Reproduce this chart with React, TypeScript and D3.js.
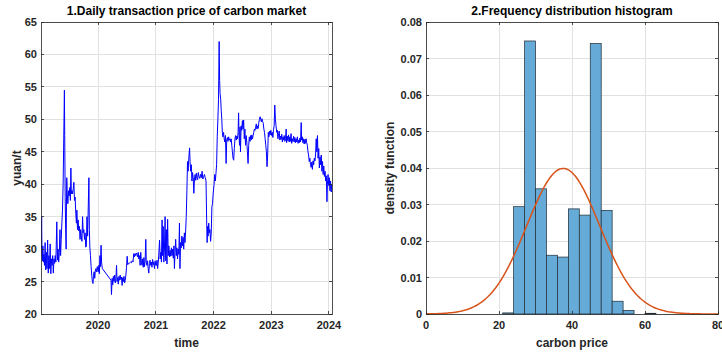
import React, { useEffect } from 'react';
import * as d3 from 'd3';

// daily carbon price (yuan/t)
const price2019: [string, number][] = [
	['2019-01-05', 28.8], ['2019-01-07', 31.0], ['2019-01-09', 35.0], ['2019-01-11', 29.5], ['2019-01-14', 28.2],
	['2019-01-17', 30.5], ['2019-01-20', 28.0], ['2019-01-23', 29.2], ['2019-01-27', 27.5], ['2019-01-31', 31.0],
	['2019-02-04', 26.8], ['2019-02-08', 29.5], ['2019-02-12', 27.0], ['2019-02-16', 31.4], ['2019-02-20', 26.3],
	['2019-02-24', 29.0], ['2019-02-28', 27.0], ['2019-03-04', 30.8], ['2019-03-08', 26.2], ['2019-03-12', 28.5],
	['2019-03-16', 27.5], ['2019-03-20', 29.0], ['2019-03-24', 26.3], ['2019-03-28', 28.5], ['2019-04-01', 27.8],
	['2019-04-05', 29.0], ['2019-04-09', 28.0], ['2019-04-15', 34.2], ['2019-04-19', 28.3], ['2019-04-23', 30.0],
	['2019-04-27', 28.0], ['2019-05-01', 29.5], ['2019-05-05', 33.0], ['2019-05-09', 29.0], ['2019-05-13', 31.5],
	['2019-05-17', 34.0], ['2019-05-21', 36.0], ['2019-05-25', 40.0], ['2019-05-29', 47.0], ['2019-06-02', 54.5],
	['2019-06-04', 47.5], ['2019-06-07', 38.0], ['2019-06-10', 33.0], ['2019-06-13', 30.0], ['2019-06-15', 36.5],
	['2019-06-17', 41.0], ['2019-06-20', 38.5], ['2019-06-24', 37.0], ['2019-06-28', 39.0], ['2019-07-02', 38.2],
	['2019-07-06', 39.5], ['2019-07-10', 37.5], ['2019-07-13', 42.5], ['2019-07-16', 38.5], ['2019-07-20', 39.0],
	['2019-07-24', 38.5], ['2019-07-28', 39.3], ['2019-08-01', 40.3], ['2019-08-05', 37.5], ['2019-08-09', 38.0],
	['2019-08-13', 35.5], ['2019-08-17', 34.0], ['2019-08-20', 36.0], ['2019-08-24', 33.0], ['2019-08-28', 34.5],
	['2019-09-01', 32.8], ['2019-09-05', 33.5], ['2019-09-09', 31.5], ['2019-09-13', 33.0], ['2019-09-17', 32.0],
	['2019-09-21', 31.2], ['2019-09-25', 35.0], ['2019-09-29', 32.5], ['2019-10-03', 33.0], ['2019-10-07', 31.5],
	['2019-10-11', 32.5], ['2019-10-15', 30.3], ['2019-10-19', 30.5], ['2019-10-23', 35.0], ['2019-10-27', 32.0],
	['2019-10-31', 36.5], ['2019-11-04', 41.0], ['2019-11-07', 33.0], ['2019-11-10', 30.3], ['2019-11-14', 29.0],
	['2019-11-18', 27.3], ['2019-11-22', 26.0], ['2019-11-26', 25.0], ['2019-11-30', 24.7], ['2019-12-03', 25.8],
	['2019-12-07', 26.5], ['2019-12-11', 25.5], ['2019-12-15', 26.8], ['2019-12-19', 27.0], ['2019-12-23', 26.5],
	['2019-12-27', 27.3]
];

const price2020: [string, number][] = [
	['2020-01-02', 26.5], ['2020-01-06', 27.5], ['2020-01-09', 26.2], ['2020-01-13', 29.0], ['2020-01-16', 27.3],
	['2020-01-20', 30.6], ['2020-01-23', 28.0], ['2020-01-28', 27.0], ['2020-03-23', 25.2], ['2020-03-26', 23.0],
	['2020-03-30', 25.5], ['2020-04-03', 24.5], ['2020-04-07', 25.8], ['2020-04-11', 25.0], ['2020-04-15', 26.0],
	['2020-04-19', 24.8], ['2020-04-23', 25.5], ['2020-04-27', 27.5], ['2020-04-30', 25.0], ['2020-05-04', 25.6],
	['2020-05-08', 24.6], ['2020-05-12', 25.8], ['2020-05-16', 25.2], ['2020-05-20', 26.0], ['2020-05-24', 25.3],
	['2020-05-28', 25.7], ['2020-06-01', 24.4], ['2020-06-05', 25.6], ['2020-06-09', 25.0], ['2020-06-13', 25.8],
	['2020-06-17', 24.8], ['2020-06-21', 25.2], ['2020-06-25', 26.0], ['2020-06-29', 27.2], ['2020-07-03', 28.9],
	['2020-07-07', 27.6], ['2020-07-11', 27.8], ['2020-07-15', 27.8], ['2020-07-20', 27.9], ['2020-07-25', 28.0],
	['2020-07-30', 27.9], ['2020-08-04', 28.2], ['2020-08-09', 28.0], ['2020-08-14', 29.3], ['2020-08-18', 28.8],
	['2020-08-22', 29.3], ['2020-08-26', 29.0], ['2020-08-30', 29.4], ['2020-09-03', 29.2], ['2020-09-07', 28.8],
	['2020-09-11', 29.5], ['2020-09-15', 28.5], ['2020-09-19', 29.0], ['2020-09-23', 27.5], ['2020-09-27', 29.5],
	['2020-10-01', 28.0], ['2020-10-05', 27.5], ['2020-10-09', 28.5], ['2020-10-13', 27.2], ['2020-10-17', 28.7],
	['2020-10-21', 27.3], ['2020-10-25', 28.3], ['2020-10-29', 31.5], ['2020-11-01', 28.0], ['2020-11-05', 27.5],
	['2020-11-09', 28.2], ['2020-11-13', 27.0], ['2020-11-17', 26.3], ['2020-11-21', 27.8], ['2020-11-25', 28.3],
	['2020-11-29', 27.5], ['2020-12-03', 28.0], ['2020-12-07', 27.2], ['2020-12-11', 28.4], ['2020-12-15', 27.6],
	['2020-12-19', 28.0], ['2020-12-23', 27.0], ['2020-12-27', 28.2], ['2020-12-31', 27.5]
];

const price2021: [string, number][] = [
	['2021-01-04', 27.5], ['2021-01-08', 28.3], ['2021-01-12', 27.0], ['2021-01-16', 28.0], ['2021-01-20', 29.5],
	['2021-01-24', 31.4], ['2021-01-28', 28.5], ['2021-02-01', 29.5], ['2021-02-05', 28.0], ['2021-02-09', 34.5],
	['2021-02-12', 29.0], ['2021-02-16', 33.5], ['2021-02-20', 28.0], ['2021-02-24', 30.0], ['2021-02-28', 35.0],
	['2021-03-04', 28.2], ['2021-03-08', 33.0], ['2021-03-12', 27.7], ['2021-03-16', 34.6], ['2021-03-20', 29.0],
	['2021-03-24', 30.5], ['2021-03-28', 28.8], ['2021-04-01', 29.8], ['2021-04-05', 28.9], ['2021-04-09', 30.2],
	['2021-04-13', 29.0], ['2021-04-17', 30.0], ['2021-04-21', 28.6], ['2021-04-25', 30.5], ['2021-04-28', 27.0],
	['2021-05-02', 29.5], ['2021-05-06', 31.5], ['2021-05-10', 29.0], ['2021-05-14', 30.2], ['2021-05-18', 28.5],
	['2021-05-22', 30.0], ['2021-05-26', 29.2], ['2021-05-30', 34.0], ['2021-06-02', 27.0], ['2021-06-06', 31.0],
	['2021-06-10', 30.2], ['2021-06-14', 32.0], ['2021-06-18', 30.5], ['2021-06-22', 31.8], ['2021-06-26', 30.0],
	['2021-06-30', 32.5], ['2021-07-04', 31.0], ['2021-07-08', 32.8], ['2021-07-12', 35.0], ['2021-07-16', 39.0],
	['2021-07-20', 43.5], ['2021-07-24', 42.0], ['2021-07-28', 44.0], ['2021-08-02', 45.6], ['2021-08-05', 43.5],
	['2021-08-09', 42.0], ['2021-08-13', 43.0], ['2021-08-17', 40.5], ['2021-08-21', 41.8], ['2021-08-25', 41.0],
	['2021-08-29', 38.6], ['2021-09-02', 40.8], ['2021-09-06', 41.5], ['2021-09-10', 40.6], ['2021-09-14', 41.7],
	['2021-09-18', 41.0], ['2021-09-22', 40.7], ['2021-09-26', 41.8], ['2021-09-30', 41.2], ['2021-10-05', 40.9],
	['2021-10-10', 41.5], ['2021-10-15', 41.0], ['2021-10-20', 42.0], ['2021-10-25', 40.8], ['2021-10-30', 41.2],
	['2021-11-04', 41.5], ['2021-11-09', 41.0], ['2021-11-14', 40.5], ['2021-11-18', 34.5], ['2021-11-21', 31.0],
	['2021-11-24', 33.5], ['2021-11-27', 32.0], ['2021-12-01', 34.0], ['2021-12-05', 32.5], ['2021-12-09', 33.0],
	['2021-12-13', 31.2], ['2021-12-17', 32.5], ['2021-12-21', 36.5], ['2021-12-25', 37.0], ['2021-12-29', 38.5]
];

const price2022: [string, number][] = [
	['2022-01-04', 40.0], ['2022-01-08', 41.5], ['2022-01-12', 40.5], ['2022-01-16', 41.7], ['2022-01-20', 43.0],
	['2022-01-24', 47.3], ['2022-01-28', 50.0], ['2022-02-01', 53.0], ['2022-02-05', 62.0], ['2022-02-08', 56.0],
	['2022-02-11', 54.0], ['2022-02-15', 53.0], ['2022-02-18', 51.4], ['2022-02-22', 50.0], ['2022-02-25', 48.0],
	['2022-03-01', 47.3], ['2022-03-05', 48.0], ['2022-03-09', 47.0], ['2022-03-13', 46.5], ['2022-03-17', 47.5],
	['2022-03-21', 43.2], ['2022-03-25', 46.8], ['2022-03-29', 47.2], ['2022-04-02', 46.6], ['2022-04-06', 47.3],
	['2022-04-10', 46.8], ['2022-04-14', 47.0], ['2022-04-18', 46.5], ['2022-04-22', 47.0], ['2022-04-26', 46.0],
	['2022-04-30', 45.0], ['2022-05-04', 44.0], ['2022-05-08', 43.7], ['2022-05-12', 45.5], ['2022-05-16', 47.0],
	['2022-05-20', 47.5], ['2022-05-24', 46.8], ['2022-05-28', 47.4], ['2022-06-01', 47.0], ['2022-06-05', 48.0],
	['2022-06-08', 51.0], ['2022-06-11', 47.5], ['2022-06-14', 46.0], ['2022-06-17', 48.8], ['2022-06-20', 45.0],
	['2022-06-24', 49.0], ['2022-06-28', 48.3], ['2022-07-02', 49.8], ['2022-07-06', 48.5], ['2022-07-10', 49.9],
	['2022-07-14', 47.0], ['2022-07-18', 48.5], ['2022-07-22', 46.0], ['2022-07-26', 47.5], ['2022-07-30', 46.5],
	['2022-08-03', 45.0], ['2022-08-07', 43.2], ['2022-08-11', 46.0], ['2022-08-15', 47.3], ['2022-08-19', 46.6],
	['2022-08-23', 47.5], ['2022-08-27', 46.8], ['2022-08-31', 47.6], ['2022-09-04', 47.0], ['2022-09-08', 47.5],
	['2022-09-12', 48.0], ['2022-09-16', 48.5], ['2022-09-20', 48.3], ['2022-09-24', 48.8], ['2022-09-28', 49.3],
	['2022-10-02', 48.5], ['2022-10-06', 49.0], ['2022-10-10', 48.6], ['2022-10-14', 49.5], ['2022-10-18', 50.0],
	['2022-10-22', 50.4], ['2022-10-26', 50.0], ['2022-10-30', 49.6], ['2022-11-03', 50.1], ['2022-11-07', 49.7],
	['2022-11-11', 49.4], ['2022-11-15', 48.5], ['2022-11-19', 48.0], ['2022-11-23', 47.0], ['2022-11-27', 46.0],
	['2022-12-01', 45.0], ['2022-12-05', 42.7], ['2022-12-09', 44.5], ['2022-12-13', 48.0], ['2022-12-17', 47.3],
	['2022-12-21', 48.2], ['2022-12-25', 47.6], ['2022-12-29', 48.3]
];

const price2023: [string, number][] = [
	['2023-01-03', 47.5], ['2023-01-07', 48.0], ['2023-01-11', 47.2], ['2023-01-15', 48.4], ['2023-01-19', 49.0],
	['2023-01-23', 52.2], ['2023-01-27', 50.0], ['2023-01-31', 49.0], ['2023-02-04', 48.0], ['2023-02-08', 48.3],
	['2023-02-12', 47.0], ['2023-02-16', 47.8], ['2023-02-20', 48.2], ['2023-02-24', 46.8], ['2023-02-28', 47.4],
	['2023-03-04', 46.9], ['2023-03-08', 47.7], ['2023-03-12', 46.5], ['2023-03-16', 47.3], ['2023-03-20', 46.8],
	['2023-03-24', 47.5], ['2023-03-28', 46.6], ['2023-04-01', 47.0], ['2023-04-05', 48.5], ['2023-04-08', 46.4],
	['2023-04-12', 47.4], ['2023-04-16', 46.7], ['2023-04-20', 47.6], ['2023-04-24', 46.5], ['2023-04-28', 47.3],
	['2023-05-02', 46.6], ['2023-05-06', 47.8], ['2023-05-10', 46.3], ['2023-05-14', 47.0], ['2023-05-18', 46.6],
	['2023-05-22', 47.4], ['2023-05-26', 46.5], ['2023-05-30', 47.2], ['2023-06-03', 46.4], ['2023-06-07', 47.0],
	['2023-06-11', 46.5], ['2023-06-15', 47.3], ['2023-06-19', 46.3], ['2023-06-23', 46.8], ['2023-06-27', 46.4],
	['2023-07-01', 47.1], ['2023-07-05', 46.5], ['2023-07-09', 49.5], ['2023-07-12', 46.8], ['2023-07-16', 47.3],
	['2023-07-20', 46.4], ['2023-07-24', 47.0], ['2023-07-28', 46.2], ['2023-08-01', 46.9], ['2023-08-05', 46.3],
	['2023-08-09', 47.0], ['2023-08-13', 46.4], ['2023-08-17', 46.0], ['2023-08-21', 45.0], ['2023-08-25', 44.5],
	['2023-08-29', 43.5], ['2023-09-02', 44.0], ['2023-09-06', 43.0], ['2023-09-10', 42.6], ['2023-09-14', 43.4],
	['2023-09-18', 42.3], ['2023-09-22', 43.6], ['2023-09-26', 43.0], ['2023-09-30', 44.0], ['2023-10-04', 43.6],
	['2023-10-08', 44.5], ['2023-10-12', 47.0], ['2023-10-16', 45.0], ['2023-10-20', 47.5], ['2023-10-24', 44.0],
	['2023-10-28', 45.5], ['2023-11-01', 42.5], ['2023-11-05', 44.2], ['2023-11-09', 43.0], ['2023-11-13', 44.5],
	['2023-11-17', 42.0], ['2023-11-21', 43.5], ['2023-11-25', 41.5], ['2023-11-29', 42.8], ['2023-12-03', 41.2],
	['2023-12-07', 42.0], ['2023-12-11', 40.5], ['2023-12-15', 41.3], ['2023-12-19', 37.3], ['2023-12-22', 40.0],
	['2023-12-26', 41.5], ['2023-12-30', 39.8]
];

const price2024: [string, number][] = [
	['2024-01-03', 41.0], ['2024-01-07', 39.0], ['2024-01-11', 40.5], ['2024-01-15', 38.8], ['2024-01-18', 40.0]
];

const yearTicks = ['2020-01-01', '2021-01-01', '2022-01-01', '2023-01-01', '2024-01-01'];
const priceTicks = [20, 25, 30, 35, 40, 45, 50, 55, 60, 65];

// histogram (density per bin, bin width 3)
const binStarts = [21, 24, 27, 30, 33, 36, 39, 42, 45, 48, 51, 54, 57, 60];
const binDensity = [0.0003, 0.0294, 0.0748, 0.0343, 0.0161, 0.0156, 0.0288, 0.0271, 0.0741, 0.0284, 0.0035, 0.0010, 0, 0.0002];
const binWidth = 3;
const fitMean = 37.6;
const fitSigma = 10.0;
const histXTicks = [0, 20, 40, 60, 80];
const histYTicks = [0, 0.01, 0.02, 0.03, 0.04, 0.05, 0.06, 0.07, 0.08];

const FONT = '"Liberation Sans", Arial, Helvetica, sans-serif';
const TXT = '#262626';
const GRID = '#e1e1e1';

const parse = d3.timeParse('%Y-%m-%d');

function Frame({ x0, x1, y0, y1, xt, yt }: { x0: number; x1: number; y0: number; y1: number; xt: number[]; yt: number[] }) {
	const tl = 3;
	return (
		<g shapeRendering="crispEdges">
			{xt.map((x, i) => (
				<g key={'xt' + i}>
					<line x1={x} x2={x} y1={y1} y2={y1 - tl} stroke={TXT} strokeWidth={0.8} />
					<line x1={x} x2={x} y1={y0} y2={y0 + tl} stroke={TXT} strokeWidth={0.8} />
				</g>
			))}
			{yt.map((y, i) => (
				<g key={'yt' + i}>
					<line x1={x0} x2={x0 + tl} y1={y} y2={y} stroke={TXT} strokeWidth={0.8} />
					<line x1={x1} x2={x1 - tl} y1={y} y2={y} stroke={TXT} strokeWidth={0.8} />
				</g>
			))}
			<rect x={x0} y={y0} width={x1 - x0} height={y1 - y0} fill="none" stroke={TXT} strokeWidth={0.8} />
		</g>
	);
}

export default function App() {
	useEffect(() => {
		document.body.style.margin = '0';
		document.body.style.overflow = 'hidden';
	}, []);

	const series = [...price2019, ...price2020, ...price2021, ...price2022, ...price2023, ...price2024]
		.map(([d, v]) => ({ date: parse(d) as Date, value: v }));

	// left panel
	const L = { left: 41, right: 332, top: 22, bottom: 314 };
	const xTime = d3.scaleTime()
		.domain([parse('2019-01-05') as Date, parse('2024-01-20') as Date])
		.range([L.left, L.right]);
	const yPrice = d3.scaleLinear().domain([20, 65]).range([L.bottom, L.top]);
	const priceLine = d3.line<{ date: Date; value: number }>()
		.x(d => xTime(d.date))
		.y(d => yPrice(d.value));
	const yearDates = yearTicks.map(d => parse(d) as Date);

	// right panel
	const R = { left: 426, right: 718, top: 22, bottom: 314 };
	const xHist = d3.scaleLinear().domain([0, 80]).range([R.left, R.right]);
	const yHist = d3.scaleLinear().domain([0, 0.08]).range([R.bottom, R.top]);
	const fitPts = d3.range(0, 80.01, 0.5).map(x => [x, Math.exp(-0.5 * ((x - fitMean) / fitSigma) ** 2) / (fitSigma * Math.sqrt(2 * Math.PI))]);
	const fitLine = d3.line<number[]>().x(d => xHist(d[0])).y(d => yHist(d[1]));

	return (
		<svg width={722} height={354} style={{ display: 'block', background: '#fff' }} fontFamily={FONT}>
			<defs>
				<clipPath id="clipL"><rect x={L.left} y={L.top} width={L.right - L.left} height={L.bottom - L.top} /></clipPath>
			</defs>

			{/* ---------- left: price series ---------- */}
			<g shapeRendering="crispEdges">
				{yearDates.map((d, i) => (
					<line key={'gx' + i} x1={xTime(d)} x2={xTime(d)} y1={L.top} y2={L.bottom} stroke={GRID} />
				))}
				{priceTicks.map(t => (
					<line key={'gy' + t} x1={L.left} x2={L.right} y1={yPrice(t)} y2={yPrice(t)} stroke={GRID} />
				))}
			</g>
			<path d={priceLine(series) || ''} fill="none" stroke="#0000ff" strokeWidth={1} strokeLinejoin="round" clipPath="url(#clipL)" />
			<Frame x0={L.left} x1={L.right} y0={L.top} y1={L.bottom} xt={yearDates.map(d => xTime(d))} yt={priceTicks.map(t => yPrice(t))} />
			{yearDates.map((d, i) => (
				<text key={'lx' + i} x={xTime(d)} y={329} textAnchor="middle" fontSize={11} fontWeight="bold" fill={TXT}>
					{d3.timeFormat('%Y')(d)}
				</text>
			))}
			{priceTicks.map(t => (
				<text key={'ly' + t} x={L.left - 4} y={yPrice(t) + 4} textAnchor="end" fontSize={11} fontWeight="bold" fill={TXT}>{t}</text>
			))}
			<text x={(L.left + L.right) / 2} y={15} textAnchor="middle" fontSize={12} fontWeight="bold" fill="#000">
				1.Daily transaction price of carbon market
			</text>
			<text x={(L.left + L.right) / 2} y={347} textAnchor="middle" fontSize={12} fontWeight="bold" fill={TXT}>time</text>
			<text transform={`translate(21,${(L.top + L.bottom) / 2}) rotate(-90)`} textAnchor="middle" fontSize={12} fontWeight="bold" fill={TXT}>yuan/t</text>

			{/* ---------- right: histogram ---------- */}
			<g shapeRendering="crispEdges">
				{histXTicks.map(t => (
					<line key={'hx' + t} x1={xHist(t)} x2={xHist(t)} y1={R.top} y2={R.bottom} stroke={GRID} />
				))}
				{histYTicks.map(t => (
					<line key={'hy' + t} x1={R.left} x2={R.right} y1={yHist(t)} y2={yHist(t)} stroke={GRID} />
				))}
			</g>
			{binStarts.map((b, i) => (
				binDensity[i] > 0 ? (
					<rect key={'bin' + b} x={xHist(b)} y={yHist(binDensity[i])} width={xHist(b + binWidth) - xHist(b)}
						height={yHist(0) - yHist(binDensity[i])} fill="#66aad7" stroke="#1f2a33" strokeWidth={0.7} />
				) : null
			))}
			<path d={fitLine(fitPts) || ''} fill="none" stroke="#d95319" strokeWidth={1.5} />
			<Frame x0={R.left} x1={R.right} y0={R.top} y1={R.bottom} xt={histXTicks.map(t => xHist(t))} yt={histYTicks.map(t => yHist(t))} />
			{histXTicks.map(t => (
				<text key={'hlx' + t} x={xHist(t)} y={329} textAnchor="middle" fontSize={11} fontWeight="bold" fill={TXT}>{t}</text>
			))}
			{histYTicks.map(t => (
				<text key={'hly' + t} x={R.left - 4} y={yHist(t) + 4} textAnchor="end" fontSize={11} fontWeight="bold" fill={TXT}>
					{t === 0 ? '0' : d3.format('.2f')(t)}
				</text>
			))}
			<text x={(R.left + R.right) / 2} y={15} textAnchor="middle" fontSize={12} fontWeight="bold" fill="#000">
				2.Frequency distribution histogram
			</text>
			<text x={(R.left + R.right) / 2} y={347} textAnchor="middle" fontSize={12} fontWeight="bold" fill={TXT}>carbon price</text>
			<text transform={`translate(394,${(R.top + R.bottom) / 2}) rotate(-90)`} textAnchor="middle" fontSize={12} fontWeight="bold" fill={TXT}>density function</text>
		</svg>
	);
}
